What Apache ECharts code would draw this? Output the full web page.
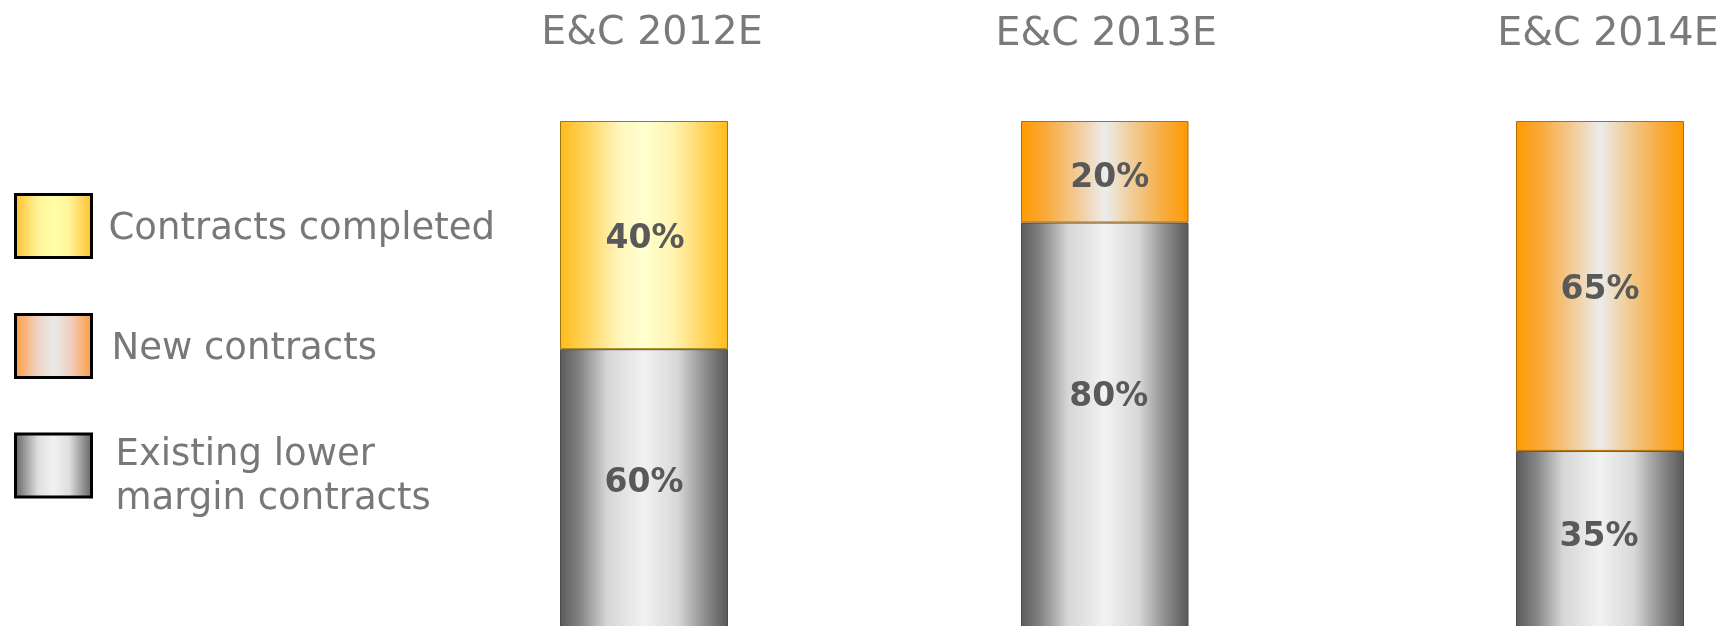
<!DOCTYPE html>
<html>
<head>
<meta charset="utf-8">
<script src="https://cdn.jsdelivr.net/npm/echarts@6/dist/echarts.min.js"></script>
<style>
html,body{margin:0;padding:0;background:#fff;}
#chart{width:1735px;height:626px;}
</style>
</head>
<body>
<div id="chart"></div>
<script>
// ---- data ----
const categories = ['E&C 2012E', 'E&C 2013E', 'E&C 2014E'];
const existingLower = [60, 80, 35];
const newContracts = [0, 20, 65];
const contractsCompleted = [40, 0, 0];
const seriesNames = ['Existing lower margin contracts', 'New contracts', 'Contracts completed'];
const legendOrder = ['Contracts completed', 'New contracts', 'Existing lower margin contracts'];
const legendLines = [['Contracts completed'], ['New contracts'], ['Existing lower', 'margin contracts']];

// ---- styles / layout ----
const FONT = 'DejaVu Sans';
function hGrad(stops) {
  return new echarts.graphic.LinearGradient(0, 0, 1, 0,
    stops.map(s => ({ offset: s[0], color: s[1] })));
}
const barColors = {
  'Existing lower margin contracts': () => hGrad([[0,'#5a5a5a'],[0.12,'#858585'],[0.28,'#d6d6d6'],[0.5,'#f2f2f2'],[0.7,'#d8d8d8'],[0.87,'#8a8a8a'],[1,'#585858']]),
  'New contracts': () => hGrad([[0,'#ff9a00'],[0.15,'#f9aa3c'],[0.32,'#f3c88e'],[0.5,'#ececec'],[0.68,'#f1c98e'],[0.85,'#f8ac40'],[1,'#ff9a00']]),
  'Contracts completed': () => hGrad([[0,'#ffbb1c'],[0.15,'#ffd35a'],[0.35,'#fff6bc'],[0.5,'#ffffd0'],[0.68,'#fff3b0'],[0.85,'#ffd660'],[1,'#ffbb1c']])
};
const borderColors = {
  'Existing lower margin contracts': '#4c4c4c',
  'New contracts': '#b56d00',
  'Contracts completed': '#9a7a10'
};
const legendColors = {
  'Contracts completed': () => hGrad([[0,'#ffbe28'],[0.3,'#fff39a'],[0.5,'#ffffa8'],[0.7,'#fff39a'],[1,'#ffbe28']]),
  'New contracts': () => hGrad([[0,'#ff9a3c'],[0.3,'#efd2c4'],[0.5,'#e9e9e9'],[0.7,'#efd2c4'],[1,'#ff9a3c']]),
  'Existing lower margin contracts': () => hGrad([[0,'#5e5e5e'],[0.3,'#dedede'],[0.5,'#f2f2f2'],[0.7,'#dedede'],[1,'#5e5e5e']])
};
const gridLayout = [
  { left: 560, top: 121, width: 168, height: 570.5 },
  { left: 1021, top: 121, width: 167.5, height: 507.5 },
  { left: 1516, top: 121, width: 168, height: 507.5 }
];
const titleStyle = [
  { margin: 67.5, padding: [0, 0, 0, 16] },
  { margin: 66.5, padding: [0, 0, 0, 3] },
  { margin: 66.5, padding: [0, 0, 0, 16] }
];
const labelOffsets = {
  'Existing lower margin contracts': [[0, -37], [4, -28], [-1, -2]],
  'New contracts': [[0, 4], [5, 7], [0, 4]],
  'Contracts completed': [[1, 4], [0, 0], [0, 0]]
};
const legendLayout = [
  { top: 193, padLeft: 12, spacer: 6 },
  { top: 313, padLeft: 15, spacer: 6 },
  { top: 421, padLeft: 19, spacer: 24 }
];

// ---- build option ----
const valuesByName = {
  'Existing lower margin contracts': existingLower,
  'New contracts': newContracts,
  'Contracts completed': contractsCompleted
};

const grids = [], xAxes = [], yAxes = [], series = [];
categories.forEach((cat, i) => {
  grids.push(Object.assign({ containLabel: false, outerBoundsMode: 'none' }, gridLayout[i]));
  xAxes.push({
    type: 'category', gridIndex: i, data: [cat], position: 'top',
    axisLine: { show: false }, axisTick: { show: false },
    axisLabel: {
      margin: titleStyle[i].margin, fontSize: 39.5, color: '#7a7a7a',
      fontFamily: FONT, padding: titleStyle[i].padding
    }
  });
  yAxes.push({ type: 'value', gridIndex: i, min: 0, max: 100, show: false });
  seriesNames.forEach(name => {
    const v = valuesByName[name][i];
    const off = labelOffsets[name][i];
    series.push({
      name: name, type: 'bar', xAxisIndex: i, yAxisIndex: i,
      stack: 'total' + i, barWidth: '100%',
      itemStyle: { color: barColors[name](), borderColor: borderColors[name], borderWidth: 1 },
      label: {
        show: true, position: 'inside', formatter: '{c}%',
        fontFamily: FONT, fontWeight: 'bold', fontSize: 33, color: '#595959'
      },
      emphasis: { disabled: true },
      data: [v ? { value: v, label: { offset: off } } : '-']
    });
  });
});

const legends = legendOrder.map((name, k) => ({
  orient: 'vertical', left: 14, top: legendLayout[k].top, padding: 0,
  itemWidth: 76, itemHeight: 63, icon: 'rect', selectedMode: false,
  data: [{ name: name, itemStyle: { color: legendColors[name](), borderColor: '#000', borderWidth: 3 } }],
  formatter: () => '{s| }\n' + legendLines[k].map(l => '{t|' + l + '}').join('\n'),
  textStyle: {
    fontFamily: FONT, fontSize: 37, color: '#787878',
    padding: [0, 0, 0, legendLayout[k].padLeft],
    rich: {
      s: { fontSize: 1, lineHeight: legendLayout[k].spacer },
      t: { fontFamily: FONT, fontSize: 37, lineHeight: 44, color: '#787878' }
    }
  }
}));

const chart = echarts.init(document.getElementById('chart'), null, { renderer: 'canvas' });
chart.setOption({
  backgroundColor: '#ffffff',
  animation: false,
  grid: grids,
  xAxis: xAxes,
  yAxis: yAxes,
  legend: legends,
  series: series
});
</script>
</body>
</html>
